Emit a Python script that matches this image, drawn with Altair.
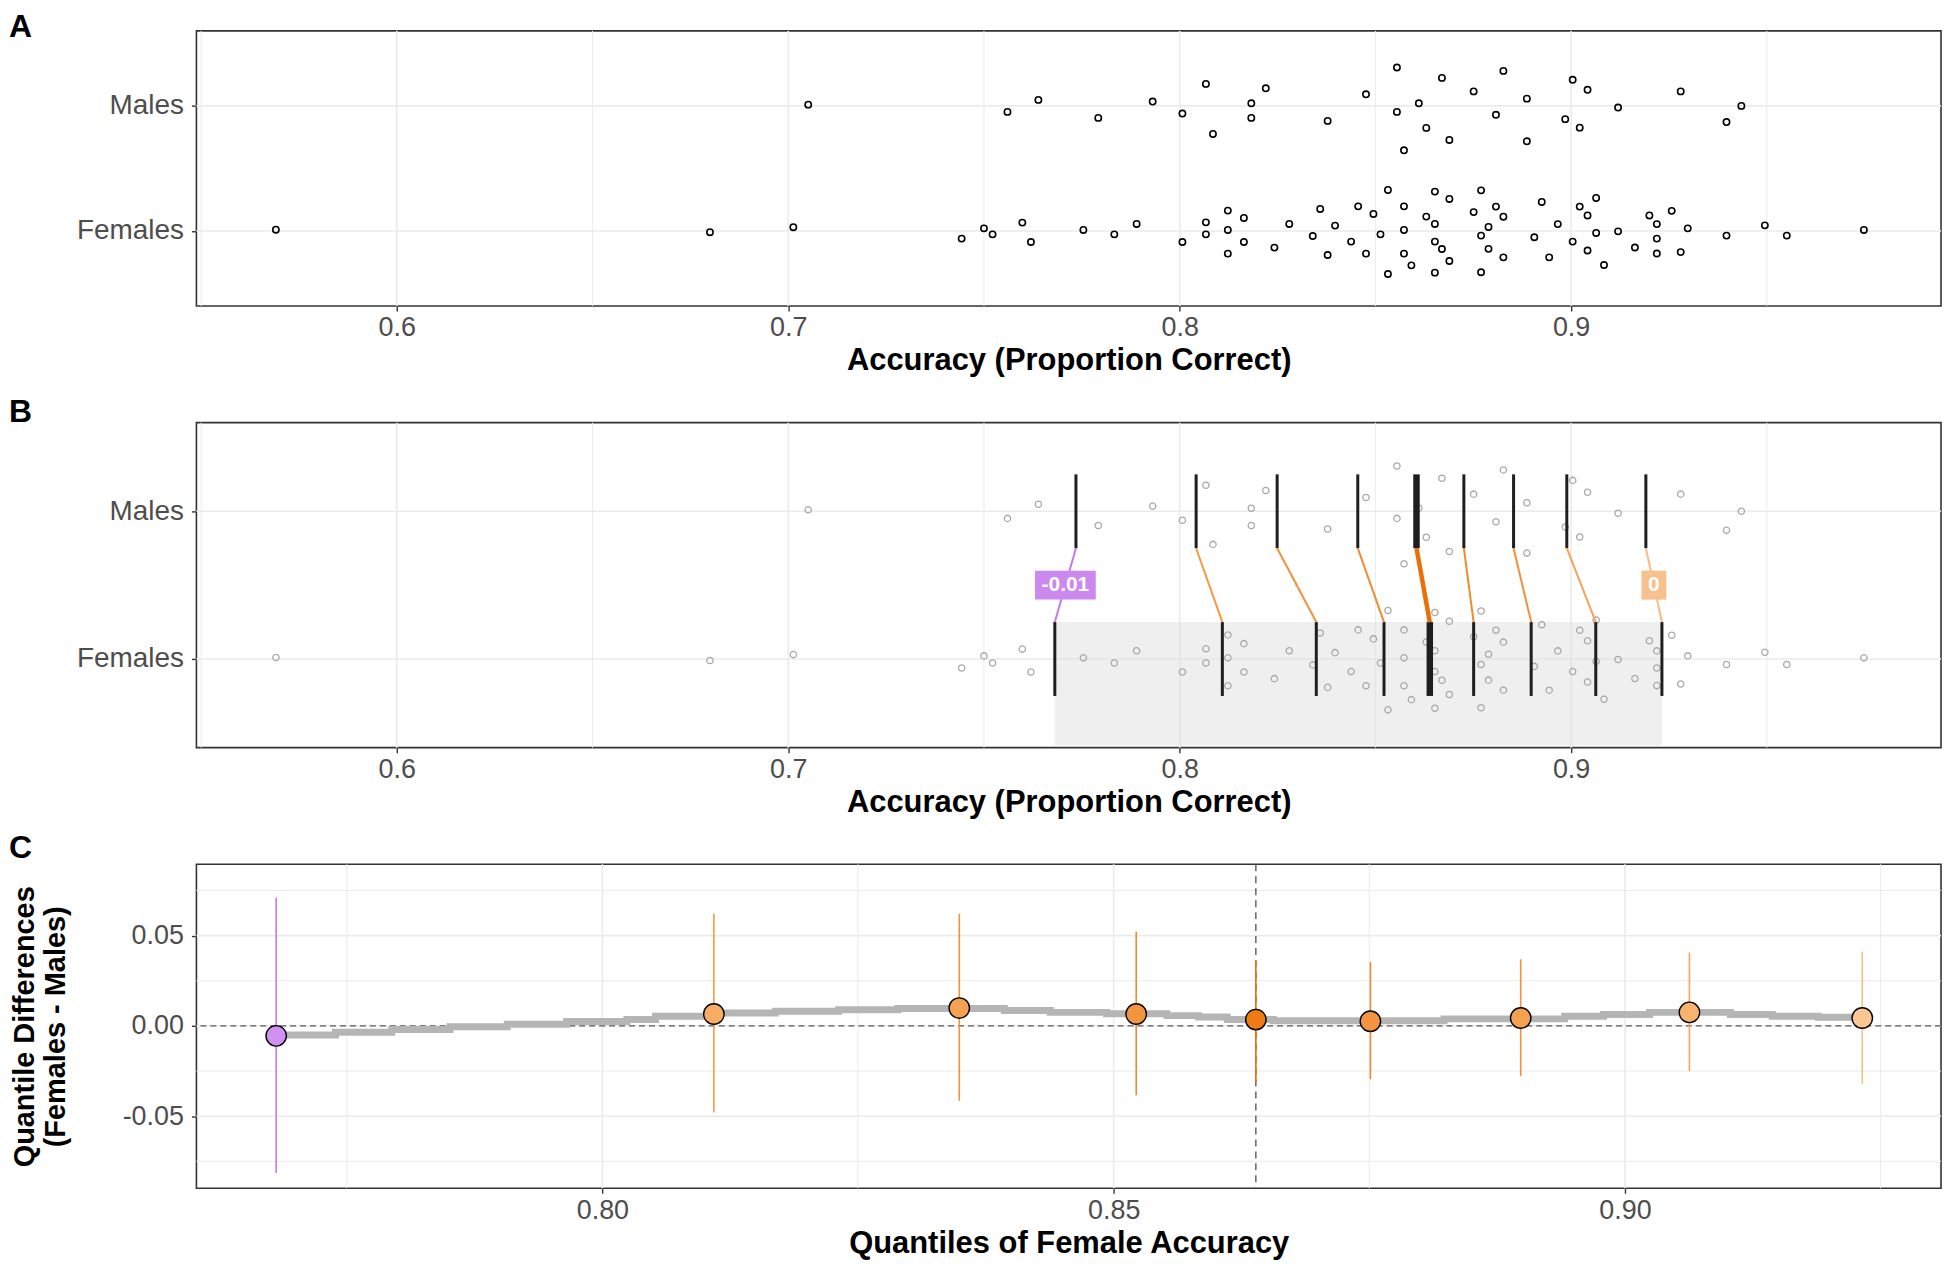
import altair as alt
import pandas as pd

# ---------------- data ----------------
males_acc = [0.7051, 0.7560, 0.7639, 0.7792, 0.7931, 0.8007, 0.8067, 0.8085, 0.8183, 0.8183,
             0.8220, 0.8378, 0.8476, 0.8555, 0.8555, 0.8573, 0.8611, 0.8630, 0.8670, 0.8689,
             0.8751, 0.8827, 0.8808, 0.8887, 0.8887, 0.9004, 0.8985, 0.9042, 0.9022, 0.9120,
             0.9280, 0.9397, 0.9435]
males_jitter = [-0.01, 0.048, -0.048, 0.096, -0.035, 0.061, -0.176, 0.224, -0.021, 0.096,
                -0.141, 0.120, -0.093, -0.307, 0.048, 0.355, -0.021, 0.176, -0.224, 0.272,
                -0.116, -0.280, 0.071, -0.058, 0.283, -0.209, 0.106, -0.129, 0.174, 0.013,
                -0.116, 0.129, 0.0]

females_acc = [0.5691, 0.6800, 0.7013,
               0.7443, 0.7500, 0.7522, 0.7598, 0.7620, 0.7754, 0.7833, 0.7890, 0.8007, 0.8067,
               0.8067, 0.8123, 0.8123, 0.8123, 0.8164, 0.8164, 0.8242, 0.8280, 0.8340, 0.8359,
               0.8378, 0.8397, 0.8438, 0.8456, 0.8476, 0.8495, 0.8513, 0.8532, 0.8532, 0.8573,
               0.8573, 0.8573, 0.8592, 0.8630, 0.8652, 0.8652, 0.8652, 0.8670, 0.8652, 0.8689,
               0.8689,
               0.8770, 0.8751, 0.8770, 0.8770, 0.8789, 0.8789, 0.8808, 0.8827, 0.8827, 0.8906,
               0.8925, 0.8944, 0.8966, 0.9004, 0.9022, 0.9042, 0.9042, 0.9064, 0.9064, 0.9084,
               0.9120, 0.9163, 0.9200, 0.9219, 0.9219, 0.9219, 0.9257, 0.9280, 0.9298, 0.9397,
               0.9495, 0.9551, 0.9748]
females_jitter = [-0.01, 0.01, -0.03,
                  0.061, -0.021, 0.027, -0.067, 0.088, -0.008, 0.027, -0.056, 0.088, -0.069,
                  0.027, -0.163, -0.008, 0.181, -0.104, 0.088, 0.133, -0.056, 0.040, -0.176,
                  0.192, -0.043, 0.085, -0.197, 0.181, -0.136, 0.027, -0.328, 0.344, -0.197,
                  -0.008, 0.181, 0.275, -0.115, -0.315, -0.056, 0.085, 0.144, 0.333, -0.256,
                  0.240,
                  -0.325, -0.151, 0.037, 0.330, -0.032, 0.143, -0.195, -0.114, 0.211, 0.050,
                  -0.232, 0.211, -0.055, 0.085, -0.195, -0.124, 0.156, -0.264, 0.016, 0.272,
                  0.003, 0.132, -0.124, -0.055, 0.061, 0.180, -0.161, 0.169, -0.021, 0.037,
                  -0.045, 0.037, -0.008]

male_deciles = [0.7735, 0.8042, 0.8249, 0.8455, 0.8605, 0.8726, 0.8853, 0.8989, 0.9191]
female_deciles = [0.7681, 0.8109, 0.8349, 0.8522, 0.8639, 0.8751, 0.8898, 0.9063, 0.9232]
decile_diff = [-0.0055, 0.0066, 0.0099, 0.0066, 0.0035, 0.0026, 0.0044, 0.0075, 0.0044]
diff_ci_low = [-0.0814, -0.0480, -0.0415, -0.0384, -0.0311, -0.0296, -0.0278, -0.0250, -0.0320]
diff_ci_high = [0.0711, 0.0621, 0.0621, 0.0522, 0.0362, 0.0353, 0.0369, 0.0406, 0.0412]

# continuous shift function (thick grey step line)
shift_x = [0.7681, 0.7739, 0.7794, 0.7851, 0.7907, 0.7965, 0.8024, 0.8052, 0.8109, 0.8169,
           0.8231, 0.8289, 0.8393, 0.8438, 0.8493, 0.8552, 0.8583, 0.8611, 0.8656, 0.8823,
           0.8941, 0.8979, 0.9024, 0.9103, 0.9144, 0.9189, 0.9232]
shift_y = [-0.0050, -0.0035, -0.0020, -0.0004, 0.0009, 0.0024, 0.0035, 0.0053, 0.0072, 0.0081,
           0.0090, 0.0097, 0.0086, 0.0075, 0.0068, 0.0057, 0.0050, 0.0035, 0.0029, 0.0039,
           0.0053, 0.0063, 0.0075, 0.0063, 0.0053, 0.0048, 0.0044]

decile_fill = ["#d291f0", "#f7ad66", "#f5a152", "#f3953e", "#ee7b14",
               "#f3953e", "#f5a152", "#f8b36f", "#fbc692"]
decile_line = ["#c27be8", "#f39a45", "#f2913a", "#f08a2e", "#ec6f05",
               "#f08a2e", "#f2913a", "#f5a35a", "#f8bd85"]
label_fill = ["#cc88ee", "#f8c08c"]

acc_ticks = [0.6, 0.7, 0.8, 0.9]
acc_minor = [0.55, 0.65, 0.75, 0.85, 0.95]
group_pos = [1, 2]
q_ticks = [0.80, 0.85, 0.90]
q_minor = [0.775, 0.825, 0.875, 0.925]
d_ticks = [-0.05, 0.0, 0.05]
d_minor = [-0.075, -0.025, 0.025, 0.075]
panel_letters = ["A", "B", "C"]

# ---------------- styling ----------------
FONT = "Liberation Sans"
W = 1750
HA, HB, HC = 276, 326, 325
ACC_DOM = [0.5488, 0.9945]
GRP_DOM = [0.4, 2.6]
Q_DOM = [0.7603, 0.9309]
D_DOM = [-0.0899, 0.0895]
GRID = "#ebebeb"

acc_axis = alt.Axis(values=acc_ticks, format=".1f", title="Accuracy (Proportion Correct)",
                    titlePadding=5)
grp_axis = alt.Axis(values=group_pos, labelExpr="datum.value == 2 ? 'Males' : 'Females'",
                    labelFontSize=28, labelPadding=8)


def xacc(field="acc"):
    return alt.X(f"{field}:Q", scale=alt.Scale(domain=ACC_DOM, nice=False, zero=False), axis=acc_axis)


def ygrp(field="gy"):
    return alt.Y(f"{field}:Q", scale=alt.Scale(domain=GRP_DOM, nice=False, zero=False), axis=grp_axis, title=None)


q_axis = alt.Axis(values=q_ticks, format=".2f", title="Quantiles of Female Accuracy", titlePadding=5)
d_axis = alt.Axis(values=d_ticks,
                  labelExpr="datum.value < -0.000001 ? '-' + format(-datum.value, '.2f') : format(datum.value, '.2f')",
                  labelPadding=8,
                  title=["Quantile Differences", "(Females - Males)"], titleFontSize=29,
                  titlePadding=52, titleLineHeight=31)


def xq(field="q"):
    return alt.X(f"{field}:Q", scale=alt.Scale(domain=Q_DOM, nice=False, zero=False), axis=q_axis)


def yd(field="d"):
    return alt.Y(f"{field}:Q", scale=alt.Scale(domain=D_DOM, nice=False, zero=False), axis=d_axis)


pts = pd.DataFrame({
    "acc": males_acc + females_acc,
    "gy": [2 - j for j in males_jitter] + [1 - j for j in females_jitter],
})


def letter(ch, dy):
    return alt.Chart(pd.DataFrame({"t": [ch]})).mark_text(
        align="left", baseline="top", fontSize=32, fontWeight="bold", font=FONT, color="black"
    ).encode(x=alt.value(-188), y=alt.value(dy), text="t:N")


def acc_grid():
    major = alt.Chart(pd.DataFrame({"acc": acc_ticks})).mark_rule(color=GRID, strokeWidth=1.6).encode(x=xacc())
    minor = alt.Chart(pd.DataFrame({"acc": acc_minor})).mark_rule(color=GRID, strokeWidth=1.0).encode(x=xacc())
    hgrid = alt.Chart(pd.DataFrame({"gy": group_pos})).mark_rule(color=GRID, strokeWidth=1.6).encode(y=ygrp())
    return [minor, major, hgrid]


# ---------------- Panel A ----------------
pointsA = alt.Chart(pts).mark_point(shape="circle", filled=False, size=40, strokeWidth=1.6,
                                     color="black", opacity=1).encode(x=xacc(), y=ygrp())
panelA = alt.layer(*acc_grid(), pointsA, letter(panel_letters[0], -19)).properties(width=W, height=HA)

# ---------------- Panel B ----------------
rect_df = pd.DataFrame({"acc": [female_deciles[0]], "acc2": [female_deciles[-1]],
                        "gy": [1.25], "gy2": [0.415]})
rectB = alt.Chart(rect_df).mark_rect(color="#dcdcdc", opacity=0.45).encode(
    x=xacc(), x2="acc2:Q", y=ygrp(), y2="gy2:Q")
pointsB = alt.Chart(pts).mark_point(shape="circle", filled=False, size=40, strokeWidth=1.3,
                                     color="#a8a8a8", opacity=1).encode(x=xacc(), y=ygrp())

vrows = []
for i in range(9):
    w = 6.5 if i == 4 else 3.0
    vrows.append({"acc": male_deciles[i], "gy": 1.75, "gy2": 2.25, "w": w})
    vrows.append({"acc": female_deciles[i], "gy": 0.75, "gy2": 1.25, "w": w})
vlines = alt.Chart(pd.DataFrame(vrows)).mark_rule(color="#1e1e1e").encode(
    x=xacc(), y=ygrp(), y2="gy2:Q", strokeWidth=alt.StrokeWidth("w:Q", scale=None))

srows = []
for i in range(9):
    srows.append({"acc": male_deciles[i], "acc2": female_deciles[i], "gy": 1.75, "gy2": 1.25,
                  "c": decile_line[i], "w": 4.5 if i == 4 else 2.0})
segs = alt.Chart(pd.DataFrame(srows)).mark_rule().encode(
    x=xacc(), x2="acc2:Q", y=ygrp(), y2="gy2:Q",
    color=alt.Color("c:N", scale=None), strokeWidth=alt.StrokeWidth("w:Q", scale=None))


def fmt_diff(v):
    r = round(v, 2)
    return "0" if r == 0 else f"{r:g}"


lab_df = pd.DataFrame({
    "acc": [(male_deciles[0] + female_deciles[0]) / 2, (male_deciles[-1] + female_deciles[-1]) / 2],
    "gy": [1.5, 1.5],
    "t": [fmt_diff(decile_diff[0]), fmt_diff(decile_diff[-1])],
    "c": label_fill,
    "s": ["M-2.1,-1H2.1V1H-2.1Z", "M-0.86,-1H0.86V1H-0.86Z"],
})
boxes = alt.Chart(lab_df).mark_point(filled=True, size=841, opacity=1, strokeWidth=0).encode(
    x=xacc(), y=ygrp(), fill=alt.Fill("c:N", scale=None), shape=alt.Shape("s:N", scale=None))
btext = alt.Chart(lab_df).mark_text(font=FONT, fontSize=21, fontWeight="bold", color="white").encode(
    x=xacc(), y=ygrp(), text="t:N")

panelB = alt.layer(*acc_grid(), rectB, pointsB, vlines, segs, boxes, btext,
                   letter(panel_letters[1], -26)).properties(width=W, height=HB)

# ---------------- Panel C ----------------
qmaj = alt.Chart(pd.DataFrame({"q": q_ticks})).mark_rule(color=GRID, strokeWidth=1.6).encode(x=xq())
qmin = alt.Chart(pd.DataFrame({"q": q_minor})).mark_rule(color=GRID, strokeWidth=1.0).encode(x=xq())
dmaj = alt.Chart(pd.DataFrame({"d": d_ticks})).mark_rule(color=GRID, strokeWidth=1.6).encode(y=yd())
dmin = alt.Chart(pd.DataFrame({"d": d_minor})).mark_rule(color=GRID, strokeWidth=1.0).encode(y=yd())
hzero = alt.Chart(pd.DataFrame({"d": [0.0]})).mark_rule(color="#5a5a5a", strokeWidth=1.4,
                                                          strokeDash=[6, 4]).encode(y=yd())
vmed = alt.Chart(pd.DataFrame({"q": [female_deciles[4]]})).mark_rule(color="#5a5a5a", strokeWidth=1.4,
                                                                     strokeDash=[7, 5]).encode(x=xq())
shift_line = alt.Chart(pd.DataFrame({"q": shift_x, "d": shift_y})).mark_line(
    interpolate="step-after", color="#b5b5b5", strokeWidth=7).encode(x=xq(), y=yd())
cdf = pd.DataFrame({"q": female_deciles, "d": decile_diff, "lo": diff_ci_low, "hi": diff_ci_high,
                    "fc": decile_fill, "lc": decile_line})
ebars = alt.Chart(cdf).mark_rule(strokeWidth=1.6).encode(
    x=xq(), y=alt.Y("lo:Q", scale=alt.Scale(domain=D_DOM, nice=False, zero=False), axis=d_axis),
    y2="hi:Q", color=alt.Color("lc:N", scale=None))
cpts = alt.Chart(cdf).mark_circle(size=420, opacity=1, stroke="black", strokeWidth=1.4).encode(
    x=xq(), y=yd(), fill=alt.Fill("fc:N", scale=None))

panelC = alt.layer(qmin, qmaj, dmin, dmaj, hzero, vmed, shift_line, ebars, cpts,
                   letter(panel_letters[2], -31)).properties(width=W, height=HC)

chart = alt.vconcat(panelA, panelB, panelC, spacing=117, bounds="flush").properties(
    padding={"left": 0, "top": 0, "right": 0, "bottom": 0}
).configure(font=FONT).configure_view(
    stroke="#333333", strokeWidth=1.6
).configure_axis(
    domain=False, grid=False, ticks=True, tickColor="#333333", tickWidth=1.4, tickSize=5,
    labelFont=FONT, labelFontSize=27, labelColor="#4d4d4d", labelPadding=4,
    titleFont=FONT, titleFontSize=31, titleFontWeight="bold", titleColor="black"
)

chart.save("out.html", embed_options={"renderer": "svg", "actions": False})
